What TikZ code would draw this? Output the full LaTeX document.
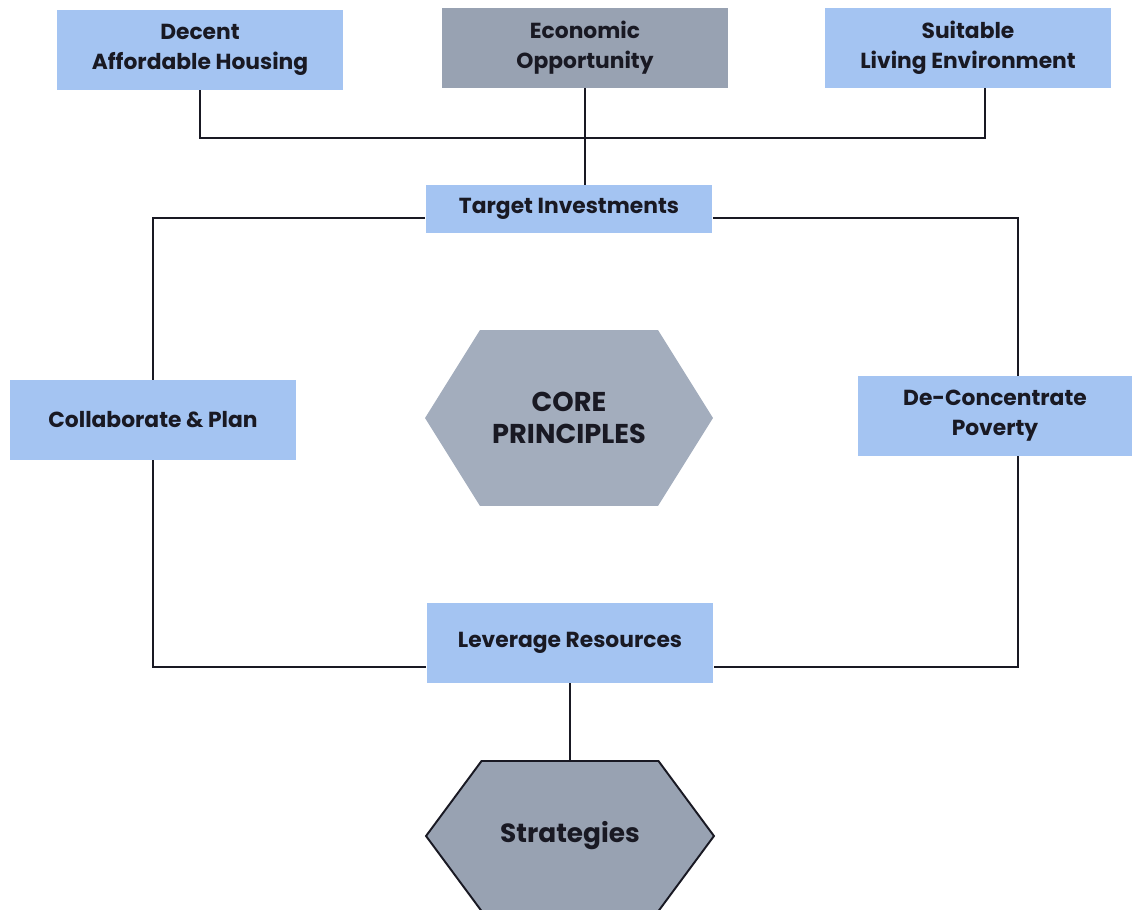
\documentclass[tikz,border=0pt]{standalone}
\usepackage{fontspec}
\setmainfont{Poppins}
\usetikzlibrary{shapes.symbols}

\definecolor{boxblue}{RGB}{164,196,242}
\definecolor{boxgray}{RGB}{152,162,178}
\definecolor{hexgray}{RGB}{163,173,189}
\definecolor{inkdark}{RGB}{25,25,35}

\begin{document}
\begin{tikzpicture}[x=0.02cm,y=-0.02cm,
  goal/.style={rectangle,fill=boxblue,minimum width=5.74cm,minimum height=1.6cm,align=center,font=\bfseries\fontsize{12.4}{17}\selectfont,text=inkdark},
  hub/.style={signal,signal to=west and east,fill=hexgray,align=center,text=inkdark,inner sep=0pt},
  wire/.style={draw=inkdark,line width=1.1pt}]
\useasboundingbox (0,0) rectangle (1134,910);

\coordinate (D) at (200,50);
\coordinate (E) at (585,48);
\coordinate (S) at (968,48);
\coordinate (T) at (569,209);
\coordinate (C) at (153,420);
\coordinate (P) at (995,416);
\coordinate (K) at (569,418);
\coordinate (L) at (570,643);
\coordinate (G) at (570,836);

\node[goal] (D1) at (D) {Decent\\Affordable Housing};
\node[goal,fill=boxgray] (E1) at (E) {Economic\\Opportunity};
\node[goal] (S1) at (S) {Suitable\\Living Environment};
\node[goal,minimum height=0.96cm] (T1) at (T) {Target Investments};
\node[goal] (C1) at (C) {Collaborate \& Plan};
\node[goal,minimum width=5.5cm] (P1) at (P) {De-Concentrate\\Poverty};
\node[hub,minimum width=5.76cm,minimum height=3.52cm,signal pointer angle=116,font=\bfseries\fontsize{15.5}{18}\selectfont] (K1) at (K) {CORE\\PRINCIPLES};
\node[goal] (L1) at (L) {Leverage Resources};
\node[hub,draw=inkdark,line width=1.1pt,fill=boxgray,minimum width=5.76cm,minimum height=3cm,signal pointer angle=107,font=\bfseries\fontsize{15}{18}\selectfont] (G1) at (G) {Strategies};

\coordinate (J) at (585,138);
\coordinate (TL) at (153,218);
\coordinate (TR) at (1018,218);
\coordinate (LL) at (153,667);
\coordinate (LR) at (1018,667);

\draw[wire] (D1.south) |- (J) -| ([xshift=0.34cm]S1.south);
\draw[wire] (E1.south) -- (E1.south |- T1.north);
\draw[wire] (T1.west |- TL) -- (TL) -- (C1.north);
\draw[wire] (T1.east |- TR) -- (TR) -- (TR |- P1.north);
\draw[wire] (C1.south) -- (LL) -- (L1.west |- LL);
\draw[wire] (TR |- P1.south) -- (LR) -- (L1.east |- LR);
\draw[wire] (L1.south) -- (G1.north);

\end{tikzpicture}
\end{document}
